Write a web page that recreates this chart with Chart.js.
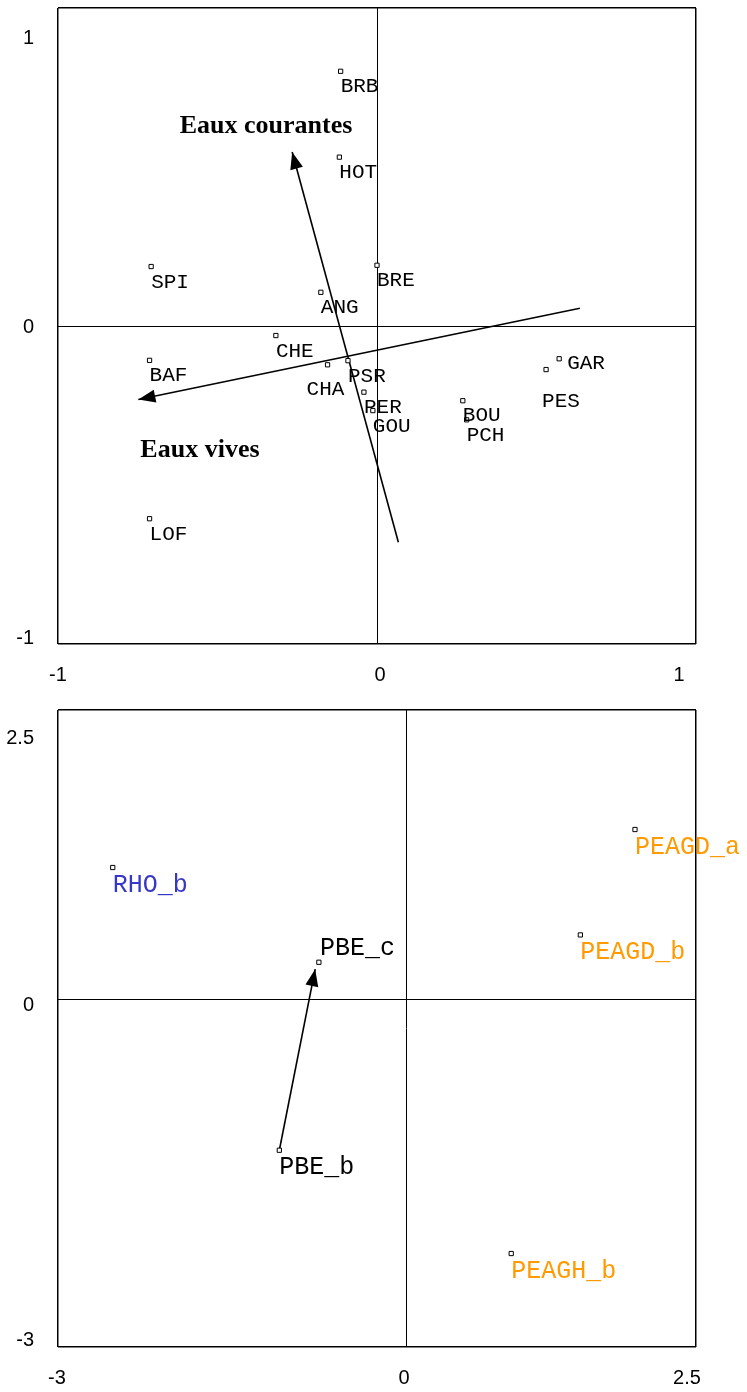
<!DOCTYPE html>
<html>
<head>
<meta charset="utf-8">
<script src="https://cdn.jsdelivr.net/npm/chart.js@4.4.1/dist/chart.umd.min.js"></script>
<style>
  body { margin: 0; background: #fff; }
  #wrap { position: relative; width: 747px; height: 1392px; }
  #wrap canvas { position: absolute; left: 0; }
</style>
</head>
<body>
<div id="wrap">
  <canvas id="speciesPlot" width="747" height="692" style="top:0"></canvas>
  <canvas id="sitesPlot" width="747" height="692" style="top:700px"></canvas>
</div>
<script>
// espèces (plan 1-2)
const speciesNames = ['BRB', 'HOT', 'SPI', 'ANG', 'BRE', 'CHE', 'BAF', 'CHA', 'PSR', 'PER', 'GOU', 'LOF', 'BOU', 'PCH', 'GAR', 'PES'];
const speciesX = [-0.114, -0.118, -0.708, -0.176, 0.000, -0.317, -0.713, -0.155, -0.091, -0.041, -0.013, -0.713, 0.269, 0.281, 0.571, 0.530];
const speciesY = [0.801, 0.531, 0.187, 0.106, 0.191, -0.030, -0.108, -0.122, -0.109, -0.208, -0.266, -0.606, -0.235, -0.295, -0.103, -0.137];

// variables projetées
const vectorNames = ['Eaux courantes', 'Eaux vives'];
const vectorFromX = [0.067, 0.636];
const vectorFromY = [-0.680, 0.056];
const vectorToX = [-0.266, -0.748];
const vectorToY = [0.547, -0.231];
const vectorLabelX = [-0.348, -0.555];
const vectorLabelY = [0.608, -0.411];

const speciesTicksX = [-1, 0, 1];
const speciesTicksY = [-1, 0, 1];

// stations
const siteNames = ['RHO_b', 'PBE_c', 'PEAGD_a', 'PEAGD_b', 'PBE_b', 'PEAGH_b'];
const siteGroups = ['RHO', 'PBE', 'PEAGD', 'PEAGD', 'PBE', 'PEAGH'];
const siteX = [-2.528, -0.751, 1.974, 1.503, -1.092, 0.907];
const siteY = [1.140, 0.322, 1.468, 0.558, -1.301, -2.193];

// trajectoire PBE_b -> PBE_c
const shiftX = [-1.092, -0.783];
const shiftY = [-1.301, 0.262];

const sitesTicksX = [-3, 0, 2.5];
const sitesTicksY = [-3, 0, 2.5];

// styles
const groupColors = {RHO: '#3636c8', PBE: '#000000', PEAGD: '#ff9a00', PEAGH: '#ff9a00'};
const speciesLabelShift = {CHA: [-21, 30], PES: [-4, 37], GAR: [8, 10], BOU: [0, 20]};
const siteLabelShift = {'PBE_c': [1, -7]};

const arrowHeads = {
  id: 'arrowHeads',
  afterDatasetsDraw(chart) {
    const c = chart.ctx;
    chart.data.datasets.forEach((ds, i) => {
      if (!ds.arrow) return;
      const pts = chart.getDatasetMeta(i).data;
      const a = pts[0], b = pts[pts.length - 1];
      const ang = Math.atan2(b.y - a.y, b.x - a.x);
      const len = 17, half = 6.5;
      c.save();
      c.fillStyle = '#000';
      c.beginPath();
      c.moveTo(b.x, b.y);
      c.lineTo(b.x - len * Math.cos(ang) + half * Math.sin(ang), b.y - len * Math.sin(ang) - half * Math.cos(ang));
      c.lineTo(b.x - len * Math.cos(ang) - half * Math.sin(ang), b.y - len * Math.sin(ang) + half * Math.cos(ang));
      c.closePath();
      c.fill();
      c.restore();
    });
  }
};

const tickText = {
  id: 'tickText',
  afterDraw(chart, args, opts) {
    const c = chart.ctx;
    const area = chart.chartArea;
    const sx = chart.scales.x, sy = chart.scales.y;
    c.save();
    c.font = '20px "Liberation Sans", Arial, sans-serif';
    c.fillStyle = '#000';
    c.textBaseline = 'middle';
    c.textAlign = 'center';
    opts.x.forEach((v, i) => {
      c.fillText(String(v), sx.getPixelForValue(v) + opts.xNudge[i], area.bottom + 31);
    });
    c.textAlign = 'right';
    opts.y.forEach((v, i) => {
      c.fillText(String(v), 34, sy.getPixelForValue(v) + opts.yNudge[i]);
    });
    c.restore();
  }
};

function pointLabels(id, names, font, colorOf, shift, base) {
  return {
    id: id,
    afterDatasetsDraw(chart) {
      const c = chart.ctx;
      const pts = chart.getDatasetMeta(0).data;
      c.save();
      c.font = font;
      c.textAlign = 'left';
      c.textBaseline = 'alphabetic';
      pts.forEach((p, i) => {
        const s = shift[names[i]] || base;
        c.fillStyle = colorOf(i);
        c.fillText(names[i], p.x + s[0], p.y + s[1]);
      });
      c.restore();
    }
  };
}

const vectorLabels = {
  id: 'vectorLabels',
  afterDatasetsDraw(chart) {
    const c = chart.ctx;
    c.save();
    c.font = 'bold 26px "Liberation Serif", "Times New Roman", serif';
    c.fillStyle = '#000';
    c.textAlign = 'center';
    c.textBaseline = 'alphabetic';
    vectorNames.forEach((n, i) => {
      c.fillText(n, chart.scales.x.getPixelForValue(vectorLabelX[i]), chart.scales.y.getPixelForValue(vectorLabelY[i]));
    });
    c.restore();
  }
};

function axis(ticks) {
  return {
    type: 'linear',
    min: ticks[0],
    max: ticks[ticks.length - 1],
    afterBuildTicks: (scale) => { scale.ticks = ticks.map(v => ({value: v})); },
    ticks: {display: false},
    border: {display: false},
    grid: {
      drawTicks: false,
      color: '#000',
      lineWidth: (ctx) => ctx.tick && ctx.tick.value === 0 ? 1 : 1.5,
    },
  };
}

function pointSet(xs, ys) {
  return {
    data: xs.map((x, i) => ({x: x, y: ys[i]})),
    pointStyle: 'rect',
    pointRadius: 3,
    borderWidth: 1,
    borderColor: '#000',
    backgroundColor: '#fff',
    showLine: false,
  };
}

function arrowSet(x, y) {
  return {
    data: x.map((v, i) => ({x: v, y: y[i]})),
    showLine: true,
    arrow: true,
    borderColor: '#000',
    borderWidth: 1.6,
    pointRadius: 0,
    fill: false,
  };
}

const common = {
  responsive: false,
  animation: false,
  plugins: {legend: {display: false}, tooltip: {enabled: false}},
};

new Chart(document.getElementById('speciesPlot'), {
  type: 'scatter',
  data: {
    datasets: [
      pointSet(speciesX, speciesY),
      arrowSet([vectorFromX[0], vectorToX[0]], [vectorFromY[0], vectorToY[0]]),
      arrowSet([vectorFromX[1], vectorToX[1]], [vectorFromY[1], vectorToY[1]]),
    ]
  },
  options: {
    ...common,
    layout: {padding: {left: 58, top: 8, right: 51, bottom: 48}},
    scales: {x: axis(speciesTicksX), y: axis(speciesTicksY)},
    plugins: {
      ...common.plugins,
      tickText: {x: speciesTicksX, y: speciesTicksY, xNudge: [0, 3, -17], yNudge: [-6, 1, 30]},
    },
  },
  plugins: [
    arrowHeads, vectorLabels, tickText,
    pointLabels('speciesLabels', speciesNames, '21px "Liberation Mono", "Courier New", monospace', () => '#000', speciesLabelShift, [0, 21]),
  ],
});

new Chart(document.getElementById('sitesPlot'), {
  type: 'scatter',
  data: {
    datasets: [
      pointSet(siteX, siteY),
      arrowSet(shiftX, shiftY),
    ]
  },
  options: {
    ...common,
    layout: {padding: {left: 58, top: 10, right: 51, bottom: 45}},
    scales: {x: axis(sitesTicksX), y: axis(sitesTicksY)},
    plugins: {
      ...common.plugins,
      tickText: {x: sitesTicksX, y: sitesTicksY, xNudge: [-1, -2, -9], yNudge: [-7, 6, 28]},
    },
  },
  plugins: [
    arrowHeads, tickText,
    pointLabels('siteLabels', siteNames, '25px "Liberation Mono", "Courier New", monospace', (i) => groupColors[siteGroups[i]], siteLabelShift, [0, 24]),
  ],
});
</script>
</body>
</html>
